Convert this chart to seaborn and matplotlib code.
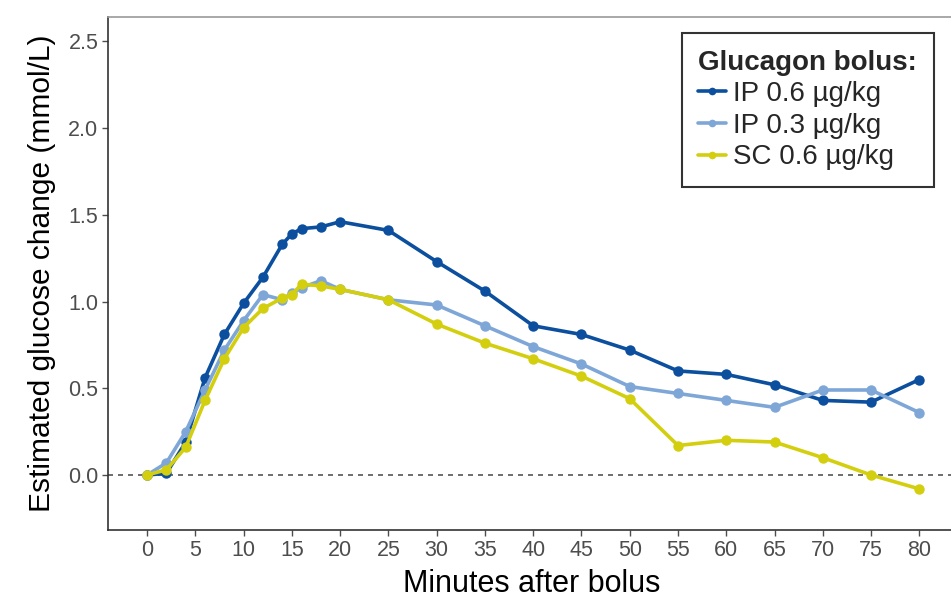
import numpy as np
import pandas as pd
import matplotlib
matplotlib.use("Agg")
import matplotlib.pyplot as plt
import seaborn as sns

#Minutes after bolus at which glucose change was estimated
minutes = [0, 2, 4, 6, 8, 10, 12, 14, 15, 16, 18, 20, 25, 30, 35, 40,
           45, 50, 55, 60, 65, 70, 75, 80]

#Estimated glucose change (mmol/L) per glucagon bolus
ip_06 = [0.00, 0.01, 0.19, 0.56, 0.81, 0.99, 1.14, 1.33, 1.39, 1.42, 1.43, 1.46,
         1.41, 1.23, 1.06, 0.86, 0.81, 0.72, 0.60, 0.58, 0.52, 0.43, 0.42, 0.55]
ip_03 = [0.00, 0.07, 0.25, 0.49, 0.72, 0.89, 1.04, 1.01, 1.05, 1.08, 1.12, 1.07,
         1.01, 0.98, 0.86, 0.74, 0.64, 0.51, 0.47, 0.43, 0.39, 0.49, 0.49, 0.36]
sc_06 = [0.00, 0.03, 0.16, 0.43, 0.67, 0.85, 0.96, 1.02, 1.04, 1.10, 1.09, 1.07,
         1.01, 0.87, 0.76, 0.67, 0.57, 0.44, 0.17, 0.20, 0.19, 0.10, 0.00, -0.08]

groups = ["IP 0.6 µg/kg", "IP 0.3 µg/kg", "SC 0.6 µg/kg"]
colours = ["#0b4f9e", "#7ea7d8", "#d3cf0f"]

x_ticks = list(range(0, 85, 5))
y_ticks = [0.0, 0.5, 1.0, 1.5, 2.0, 2.5]

#Long format for seaborn
df = pd.DataFrame({
    "minutes": minutes * 3,
    "change": ip_06 + ip_03 + sc_06,
    "group": [g for g in groups for _ in minutes],
})

sns.set_style("white")
plt.rcParams["font.family"] = ["Liberation Sans", "DejaVu Sans"]

fig = plt.figure(figsize=(9.51, 5.99), dpi=100)
ax = fig.add_axes([0.1136, 0.1152, 0.8906, 0.8564])

ax.axhline(0, color="#555555", linestyle=(0, (3, 3)), linewidth=1.2, zorder=1)

sns.lineplot(
    data=df,
    x="minutes",
    y="change",
    hue="group",
    hue_order=groups,
    palette=colours,
    marker="o",
    markersize=7.5,
    markeredgewidth=0,
    linewidth=2.6,
    ax=ax,
    zorder=3,
)

#Axes limits and ticks
ax.set_xlim(-4.05, 83.7)
ax.set_ylim(-0.317, 2.64)
ax.set_xticks(x_ticks)
ax.set_xticklabels([str(t) for t in x_ticks])
ax.set_yticks(y_ticks)
ax.set_yticklabels([f"{t:.1f}" for t in y_ticks])
ax.tick_params(axis="both", colors="#4d4d4d", labelsize=15.5, length=4,
               width=1, direction="out", bottom=True, left=True, pad=3)

for side in ["top", "right", "bottom", "left"]:
    ax.spines[side].set_visible(True)
for side in ["top", "right"]:
    ax.spines[side].set_color("#999999")
    ax.spines[side].set_linewidth(1.2)
for side in ["bottom", "left"]:
    ax.spines[side].set_color("#333333")
    ax.spines[side].set_linewidth(1.2)

ax.set_xlabel("Minutes after bolus", fontsize=22, color="black", labelpad=6)
ax.set_ylabel("Estimated glucose change (mmol/L)", fontsize=21.5, color="black",
              labelpad=9)

#Legend
leg = ax.legend(
    title="Glucagon bolus:",
    loc="upper right",
    bbox_to_anchor=(0.975, 0.969),
    borderaxespad=0,
    fontsize=20,
    title_fontproperties={"weight": "bold", "size": 20},
    frameon=True,
    fancybox=False,
    handlelength=1.0,
    handletextpad=0.25,
    borderpad=0.6,
    labelspacing=0.2,
    alignment="left",
)
leg.get_frame().set_edgecolor("black")
leg.get_frame().set_linewidth(1.5)
for line in leg.get_lines():
    line.set_linewidth(2.6)
    line.set_markersize(5.5)

plt.savefig("out.png", dpi=100)
